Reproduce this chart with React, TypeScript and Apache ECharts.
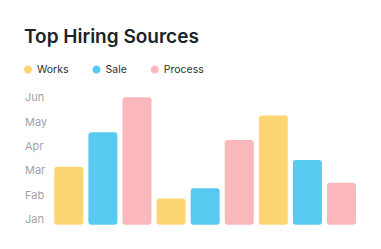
import React, { useEffect, useRef } from "react";
import * as echarts from "echarts";

const categories = ["A1", "B1", "C1", "A2", "B2", "C2", "A3", "B3", "C3"];
const monthLabels = ["Jan", "Fab", "Mar", "Apr", "May", "Jun"];
const works: (number | string)[] = [2.38, "-", "-", 1.07, "-", "-", 4.48, "-", "-"];
const sale: (number | string)[] = ["-", 3.79, "-", "-", 1.49, "-", "-", 2.65, "-"];
const processVals: (number | string)[] = ["-", "-", 5.22, "-", "-", 3.47, "-", "-", 1.72];

const COLORS = { works: "#FDD673", sale: "#58C9F0", process: "#FAB7BC" };

export default function App() {
  const ref = useRef<HTMLDivElement>(null);
  useEffect(() => {
    if (!ref.current) return;
    const chart = echarts.init(ref.current, null, { renderer: "svg" });
    const barStyle = (c: string) => ({ color: c, borderRadius: 3 });
    chart.setOption({
      animation: false,
      backgroundColor: "#ffffff",
      title: {
        text: "Top Hiring Sources",
        left: 24,
        top: 27,
        padding: 0,
        textStyle: {
          fontFamily: "Inter",
          fontSize: 19,
          fontWeight: 600,
          color: "#1B2428",
        },
      },
      legend: {
        left: 24,
        top: 64,
        padding: 0,
        icon: "circle",
        itemWidth: 8,
        itemHeight: 8,
        itemGap: 24,
        textStyle: { fontFamily: "Inter", fontSize: 10.5, color: "#2A2F33" },
        data: ["Works", "Sale", "Process"],
      },
      grid: { left: 51.75, right: 22.45, top: 95.4, bottom: 24.3 },
      xAxis: {
        type: "category",
        data: categories,
        axisLine: { show: false },
        axisTick: { show: false },
        axisLabel: { show: false },
        splitLine: { show: false },
      },
      yAxis: {
        type: "value",
        min: 0,
        max: 5.3,
        interval: 1,
        splitLine: { show: false },
        axisLine: { show: false },
        axisTick: { show: false },
        axisLabel: {
          align: "left",
          verticalAlign: "bottom",
          margin: 26.75,
          fontFamily: "Inter",
          fontSize: 11,
          color: "#A3A3A3",
          showMaxLabel: false,
          formatter: (v: number) =>
            Number.isInteger(v) && v >= 0 && v < monthLabels.length ? monthLabels[v] : "",
        },
      },
      series: [
        { name: "Works", type: "bar", data: works, barWidth: 29, barGap: "-100%", itemStyle: barStyle(COLORS.works) },
        { name: "Sale", type: "bar", data: sale, barWidth: 29, barGap: "-100%", itemStyle: barStyle(COLORS.sale) },
        { name: "Process", type: "bar", data: processVals, barWidth: 29, barGap: "-100%", itemStyle: barStyle(COLORS.process) },
      ],
    });
    return () => chart.dispose();
  }, []);
  return <div ref={ref} style={{ width: 381, height: 249, position: "fixed", left: 0, top: 0 }} />;
}
